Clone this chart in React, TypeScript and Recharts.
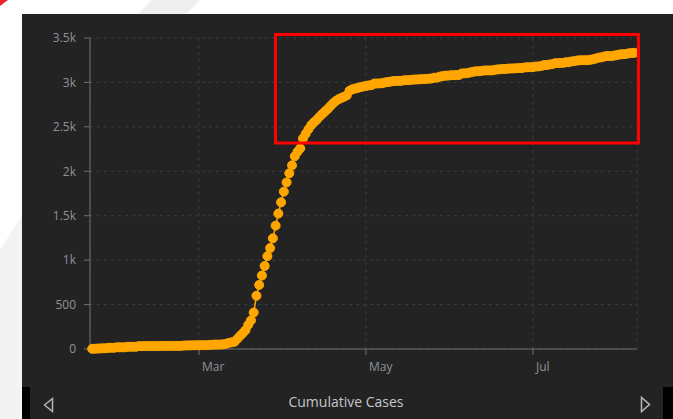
import { LineChart, Line, XAxis, YAxis, CartesianGrid } from "recharts";

// ─── Colours ────────────────────────────────────────────────────────────────
const C_PANEL = "#232323";
const C_ORANGE = "#ffa700";
const C_TICK = "#8c929a";
const C_AXIS = "#707070";
const C_GRID = "#3d3d3d";

const FONT = "'Open Sans', 'DejaVu Sans', sans-serif";

// ─── Data: cumulative cases, one value per day from 22 Jan ─────────────────
const START_DATE = Date.UTC(2020, 0, 22);
const DAY = 86400000;

const janCases = [2, 3, 5, 7, 8, 8, 14, 14, 14, 19];
const febCases = [
  19, 19, 19, 25, 25, 25, 25, 32, 32, 32, 33, 33, 33, 33, 33, 34, 35, 35, 35, 35,
  35, 35, 35, 37, 40, 40, 41, 42, 42,
];
const marCases = [
  42, 43, 43, 43, 47, 48, 50, 50, 50, 53, 59, 70, 75, 82, 114, 147, 177, 212, 272, 322,
  411, 599, 721, 827, 934, 1045, 1136, 1245, 1388, 1524, 1651,
];
const aprCases = [
  1771, 1875, 1978, 2067, 2169, 2220, 2258, 2369, 2423, 2473, 2518, 2551, 2579, 2613, 2643,
  2672, 2700, 2733, 2765, 2792, 2811, 2826, 2839, 2854, 2907, 2922, 2931, 2938, 2947, 2954,
];
const mayCases = [
  2960, 2966, 2969, 2987, 2988, 2989, 2992, 3000, 3004, 3009, 3015, 3017, 3017, 3018, 3025,
  3025, 3026, 3031, 3033, 3034, 3037, 3037, 3040, 3042, 3045, 3054, 3054, 3065, 3071, 3076,
  3077,
];
const junCases = [
  3081, 3082, 3083, 3084, 3101, 3102, 3104, 3112, 3119, 3125, 3125, 3129, 3134, 3135, 3135,
  3135, 3141, 3146, 3148, 3151, 3151, 3156, 3157, 3158, 3159, 3162, 3162, 3169, 3171, 3171,
];
const julCases = [
  3173, 3179, 3180, 3185, 3195, 3195, 3202, 3205, 3216, 3217, 3220, 3220, 3227, 3227, 3236,
  3239, 3246, 3249, 3250, 3250, 3250, 3255, 3261, 3269, 3279, 3282, 3291, 3297, 3297, 3298,
  3304,
];
const augCases = [3310, 3317, 3317, 3321, 3328, 3330, 3333];

const cumulativeCases = [
  ...janCases, ...febCases, ...marCases, ...aprCases,
  ...mayCases, ...junCases, ...julCases, ...augCases,
];

const xTickDates = [Date.UTC(2020, 2, 1), Date.UTC(2020, 4, 1), Date.UTC(2020, 6, 1)];
const xTickLabels = ["Mar", "May", "Jul"];
const yTicks = [0, 500, 1000, 1500, 2000, 2500, 3000, 3500];

const data = cumulativeCases.map((v, i) => ({ date: START_DATE + i * DAY, cases: v }));

const fmtY = (v: number) => (v >= 1000 ? `${v / 1000}k` : `${v}`);

function MonthTick({ x, y, payload }: { x?: number; y?: number; payload?: { value: number } }) {
  const idx = xTickDates.indexOf(payload?.value ?? 0);
  return (
    <text x={(x ?? 0) + 3} y={(y ?? 0) + 14} fill={C_TICK} fontSize={12} fontFamily={FONT} textAnchor="start">
      {xTickLabels[idx] ?? ""}
    </text>
  );
}

export default function App() {
  return (
    <div style={{ position: "fixed", left: 0, top: 0, width: 673, height: 419, background: "#fff", overflow: "hidden" }}>
      {/* decorative page background */}
      <svg width={673} height={419} style={{ position: "absolute", left: 0, top: 0 }}>
        <polygon points="0,0 8,0 0,6" fill="#e8262a" />
        <polygon points="152,0 200,0 186,14 138,14" fill="#efefef" />
        <polygon points="0,250 22,215 22,419 0,419" fill="#f3f3f3" />
      </svg>

      <div style={{ position: "absolute", left: 22, top: 14, width: 651, height: 405, background: C_PANEL }} />

      <div style={{ position: "absolute", left: 0, top: 0 }}>
        <LineChart width={673} height={419} data={data} margin={{ top: 38, right: 36, bottom: 40, left: 30 }}>
          <CartesianGrid stroke={C_GRID} strokeDasharray="3 4" />
          <XAxis
            dataKey="date"
            type="number"
            domain={[START_DATE - 0.8 * DAY, START_DATE + 199 * DAY]}
            ticks={xTickDates}
            tick={<MonthTick />}
            tickSize={6}
            height={30}
            stroke={C_AXIS}
            tickLine={{ stroke: C_AXIS }}
          />
          <YAxis
            type="number"
            domain={[0, 3500]}
            ticks={yTicks}
            tickFormatter={fmtY}
            width={60}
            tickSize={6}
            tickMargin={8}
            stroke={C_AXIS}
            tick={{ fill: C_TICK, fontSize: 12, fontFamily: FONT }}
          />
          <Line
            dataKey="cases"
            type="linear"
            stroke={C_ORANGE}
            strokeWidth={1.5}
            dot={{ r: 4.5, fill: C_ORANGE, stroke: C_ORANGE, strokeWidth: 1 }}
            isAnimationActive={false}
          />
        </LineChart>
      </div>

      {/* annotation + footer bar */}
      <svg width={673} height={419} style={{ position: "absolute", left: 0, top: 0 }}>
        <rect x={275.5} y={34.5} width={363} height={108.5} fill="none" stroke="#ff0000" strokeWidth={3} />
        <rect x={22} y={387} width={8} height={32} fill="#000" />
        <rect x={663} y={387} width={10} height={32} fill="#000" />
        <polygon points="44.5,405 52.5,398.5 52.5,411.5" fill="none" stroke="#b4b8bc" strokeWidth={1.5} />
        <polygon points="641.5,397.5 641.5,411.5 649.5,404.5" fill="none" stroke="#b4b8bc" strokeWidth={1.5} />
        <text x={346} y={407} textAnchor="middle" fill="#c3c7cc" fontSize={14} fontFamily={FONT}>
          Cumulative Cases
        </text>
      </svg>
    </div>
  );
}
